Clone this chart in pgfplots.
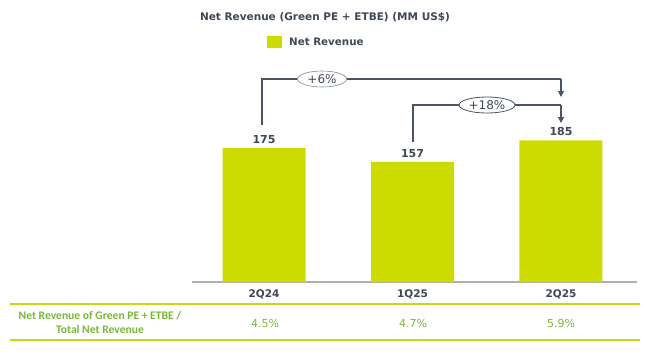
\documentclass[border=0pt]{standalone}
\usepackage{pgfplots}
\pgfplotsset{compat=1.18}
\usepackage{fontspec}
\setmainfont{DejaVu Sans}
\newfontfamily\carlito{Carlito}
\usetikzlibrary{arrows.meta,shapes.geometric}
\definecolor{barlime}{RGB}{204,220,0}
\definecolor{txtdark}{RGB}{62,72,86}
\definecolor{arrowc}{RGB}{75,85,98}
\definecolor{tgreen}{RGB}{122,182,58}
\definecolor{tline}{RGB}{200,216,20}
\definecolor{axgray}{RGB}{175,175,175}
\begin{document}
\begin{tikzpicture}[x=1pt,y=-1pt]
\useasboundingbox (0,0) rectangle (652,354);
\begin{axis}[
  at={(192pt,-282pt)}, anchor=south west,
  scale only axis, width=445pt, height=222pt,
  xmin=-0.485, xmax=2.512, ymin=0, ymax=290,
  axis x line*=bottom, axis y line=none,
  x axis line style={axgray, line width=1.5pt, -},
  xtick=data, xticklabels={2Q24,1Q25,2Q25},
  xtick style={draw=none},
  xticklabel style={font=\fontsize{10.5}{12}\selectfont\bfseries, text=txtdark, yshift=0pt},
  ybar, bar width=83pt, bar shift=0pt,
  /pgf/number format/assume math mode=true,
  nodes near coords,
  every node near coord/.append style={font=\fontsize{11}{13}\selectfont\bfseries, text=txtdark, yshift=1pt},
  clip=false,
]
\addplot[fill=barlime, draw=none] coordinates {(0,175) (1,157) (2,185)};
\end{axis}
% title and legend
\node[font=\fontsize{10.5}{12}\selectfont\bfseries, text=txtdark] at (325,17) {Net Revenue (Green PE + ETBE) (MM US\$)};
\fill[barlime] (267,36) rectangle (282,48);
\node[anchor=west, font=\fontsize{10.3}{12}\selectfont\bfseries, text=txtdark, inner sep=0pt] at (289,42) {Net Revenue};
% growth arrows
\draw[arrowc, line width=1.1pt] (262,125) -- (262,79) -- (561,79);
\draw[arrowc, line width=1.1pt, -{Triangle[length=6pt,width=6pt]}] (561,79) -- (561,97);
\draw[arrowc, line width=1.1pt] (413,142) -- (413,105) -- (561,105);
\draw[arrowc, line width=1.1pt, -{Triangle[length=6pt,width=6pt]}] (561,105) -- (561,123);
\node[ellipse, draw=arrowc!70, line width=0.6pt, fill=white, minimum width=49pt, minimum height=16pt, inner sep=0pt, font=\fontsize{12}{14}\selectfont, text=txtdark] at (322,79) {+6\%};
\node[ellipse, draw=arrowc, line width=0.8pt, fill=white, minimum width=56pt, minimum height=16pt, inner sep=0pt, font=\fontsize{12}{14}\selectfont, text=txtdark] at (487,105) {+18\%};
% table
\draw[tline, line width=1.6pt] (10,304) -- (640,304);
\draw[tline, line width=1.6pt] (10,340) -- (640,340);
\node[align=center, font=\carlito\fontsize{11.6}{14}\selectfont\bfseries, text=tgreen] at (100,322) {Net Revenue of Green PE + ETBE /\\Total Net Revenue};
\node[font=\fontsize{11}{13}\selectfont, text=tgreen] at (265,323) {4.5\%};
\node[font=\fontsize{11}{13}\selectfont, text=tgreen] at (413,323) {4.7\%};
\node[font=\fontsize{11}{13}\selectfont, text=tgreen] at (561,323) {5.9\%};
\end{tikzpicture}
\end{document}
